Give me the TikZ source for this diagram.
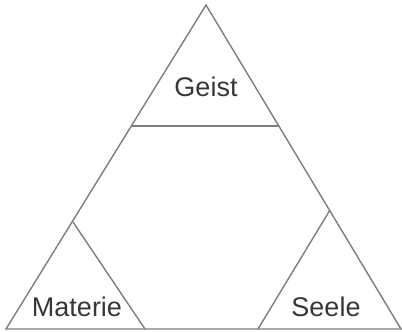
\documentclass[tikz,border=0pt]{standalone}
\usepackage{fontspec}
\setmainfont{Liberation Sans}
\begin{document}
\begin{tikzpicture}[x=1pt,y=1pt,
  edge/.style={draw=linegray,line width=1.4pt,line join=miter},
  lbl/.style={text=txtgray,font=\fontsize{27}{27}\selectfont,inner sep=0pt,anchor=base}]
\definecolor{linegray}{RGB}{125,125,125}
\definecolor{txtgray}{RGB}{55,55,55}
\useasboundingbox (0,0) rectangle (402,332);
% outer triangle corners
\coordinate (A) at (206,327);
\coordinate (L) at (6,3);
\coordinate (R) at (401,3);
\draw[edge] (L) -- (A) -- (R) -- cycle;
% Geist triangle base
\coordinate (GL) at (132,206);
\coordinate (GR) at (279,206);
\draw[edge] (GL) -- (GR);
% Materie triangle
\coordinate (MA) at (73,110);
\coordinate (MR) at (145,3);
\draw[edge] (MA) -- (MR);
% Seele triangle
\coordinate (SA) at (330,122);
\coordinate (SL) at (258,3);
\draw[edge] (SA) -- (SL);
\node[lbl] (geist) at (206,235) {Geist};
\node[lbl] (materie) at (77,15) {Materie};
\node[lbl] (seele) at (326,15) {Seele};
\end{tikzpicture}
\end{document}
